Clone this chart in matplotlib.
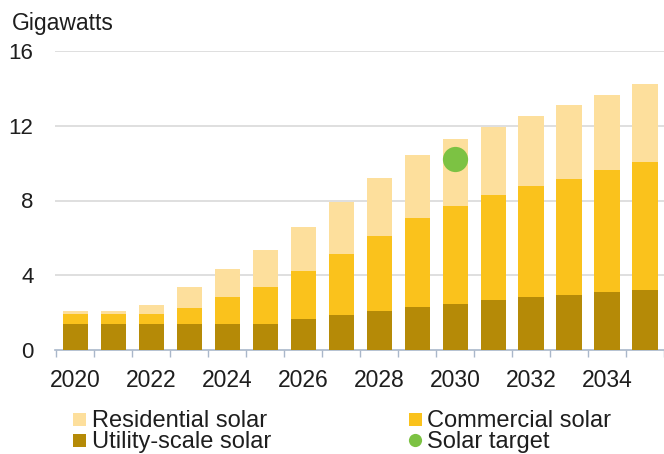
import matplotlib
matplotlib.use("Agg")
import matplotlib.pyplot as plt
from matplotlib.patches import Rectangle
from matplotlib.lines import Line2D
import numpy as np

# Installed solar capacity by segment (stacked), gigawatts
years = list(range(2020, 2036))
utility = [1.4, 1.4, 1.4, 1.4, 1.4, 1.4, 1.65, 1.87, 2.1, 2.28, 2.47, 2.67, 2.81, 2.95, 3.11, 3.22]
commercial = [0.54, 0.54, 0.54, 0.84, 1.43, 1.98, 2.58, 3.25, 3.98, 4.78, 5.26, 5.6, 5.94, 6.22, 6.53, 6.84]
residential = [0.16, 0.16, 0.48, 1.12, 1.52, 1.95, 2.37, 2.79, 3.13, 3.37, 3.58, 3.64, 3.76, 3.93, 4.01, 4.16]
target_year = [2030]
target_value = [10.2]

y_ticks = [0, 4, 8, 12, 16]
x_tick_labels = [2020, 2022, 2024, 2026, 2028, 2030, 2032, 2034]

c_res = "#FDDF9C"
c_com = "#FAC21C"
c_util = "#B58A07"
c_target = "#7CC243"
axis_col = "#A9B7CA"
grid_col = "#D9D9D9"
text_col = "#1E1E1E"

plt.rcParams["font.family"] = ["Liberation Sans", "DejaVu Sans"]

W, H = 664, 454
fig = plt.figure(figsize=(W / 100, H / 100), dpi=100)
ax = fig.add_axes([55 / W, 104 / H, 609 / W, 299 / H])

x = np.array(years, dtype=float)
u = np.array(utility)
c = np.array(commercial)
r = np.array(residential)
w = 0.66
ax.bar(x, u, width=w, color=c_util, zorder=3, linewidth=0)
ax.bar(x, c, width=w, bottom=u, color=c_com, zorder=3, linewidth=0)
ax.bar(x, r, width=w, bottom=u + c, color=c_res, zorder=3, linewidth=0)
ax.scatter(target_year, target_value, s=330, color=c_target, zorder=4, linewidths=0)

ax.set_xlim(2019.47, 2035.5)
ax.set_ylim(0, 16)

for yv in y_ticks[1:]:
    ax.axhline(yv, color=grid_col, linewidth=1.2, zorder=1)

for side in ["top", "right", "left"]:
    ax.spines[side].set_visible(False)
ax.spines["bottom"].set_color(axis_col)
ax.spines["bottom"].set_linewidth(1.2)

ax.set_yticks(y_ticks)
ax.set_yticklabels([str(v) for v in y_ticks], fontsize=16, color=text_col)
ax.tick_params(axis="y", length=0, pad=15.5)

ax.set_xticks(x_tick_labels)
ax.set_xticklabels([str(v) for v in x_tick_labels], fontsize=16.5, color=text_col)
ax.tick_params(axis="x", which="major", length=0, pad=13.5)
ax.set_xticks(np.arange(2019.5, 2036.0, 1.0), minor=True)
ax.tick_params(axis="x", which="minor", length=5, width=1.0, color=axis_col, direction="out")


def fx(px):
    return px / W


def fy(py):
    return 1 - py / H


fig.text(fx(12), fy(30), "Gigawatts", fontsize=16.5, color=text_col, va="baseline", ha="left")

# Legend, laid out in two columns below the axis
legend_items = [
    ("square", c_res, "Residential solar", 79, 92, 427),
    ("square", c_com, "Commercial solar", 415, 427, 427),
    ("square", c_util, "Utility-scale solar", 79, 92, 448),
    ("circle", c_target, "Solar target", 415, 427, 448),
]
sq = 13
for kind, col, label, cx, tx, base in legend_items:
    cy = base - 8
    if kind == "square":
        fig.patches.append(Rectangle((fx(cx - sq / 2), fy(cy + sq / 2)), sq / W, sq / H,
                                     transform=fig.transFigure, facecolor=col,
                                     edgecolor="none", figure=fig))
    else:
        fig.lines.append(Line2D([fx(cx)], [fy(cy)], transform=fig.transFigure,
                                marker="o", markersize=9.5, markeredgewidth=0,
                                markerfacecolor=col, linestyle="none", figure=fig))
    fig.text(fx(tx), fy(base), label, fontsize=17, color=text_col,
             va="baseline", ha="left")

fig.savefig("out.png", dpi=100)
